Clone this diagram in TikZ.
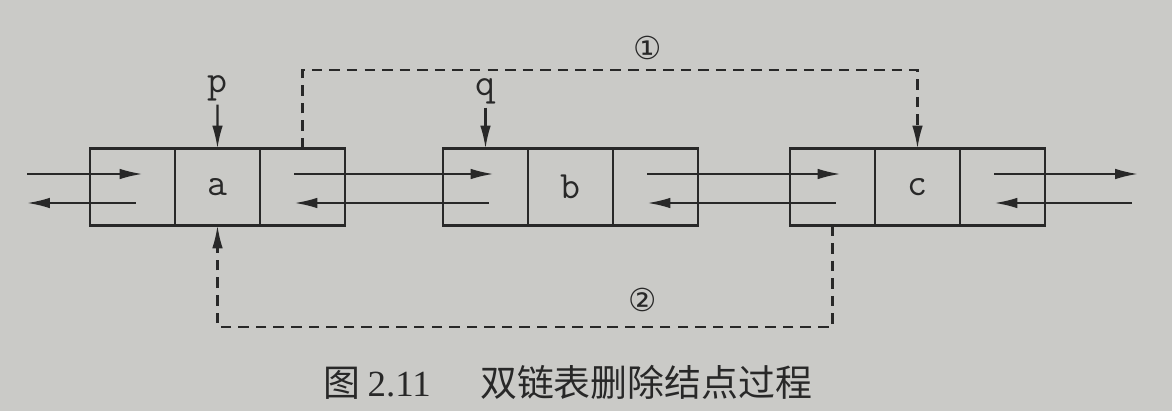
\documentclass[tikz,border=0pt]{standalone}
\usepackage{fontspec}
\setmainfont{Liberation Serif}
\newfontfamily\cjkfont{Noto Sans CJK SC}
\newfontfamily\symfont{DejaVu Sans}
\usetikzlibrary{arrows.meta,calc,positioning}

\definecolor{paper}{RGB}{202,202,199}
\definecolor{ink}{RGB}{40,40,40}

\tikzset{
  cell/.style={draw=ink, line width=1.3pt, minimum width=1.7cm, minimum height=1.54cm,
    inner sep=0pt, outer sep=0pt, text=ink, font=\ttfamily\fontsize{22}{22}\selectfont},
  ptr/.style={inner sep=2pt, text=ink, font=\ttfamily\fontsize{22}{22}\selectfont},
  link/.style={draw=ink, line width=1.2pt, -{Latex[length=13pt,width=6pt]}},
  change/.style={link, dash pattern=on 6pt off 4pt},
  step label/.style={text=ink, font=\symfont\fontsize{18}{18}\selectfont},
}

\begin{document}
\begin{tikzpicture}[x=0.02cm,y=-0.02cm]
  \fill[paper] (0,0) rectangle (1172,411);
  \useasboundingbox (0,0) rectangle (1172,411);

  % node a
  \node[cell] (aL) at (132.5,187) {};
  \node[cell,right=0pt of aL] (aD) {a};
  \node[cell,right=0pt of aD] (aR) {};

  % node b
  \node[cell] (bL) at (485.5,187) {};
  \node[cell,right=0pt of bL] (bD) {b};
  \node[cell,right=0pt of bD] (bR) {};

  % node c
  \node[cell] (cL) at (832.5,187) {};
  \node[cell,right=0pt of cL] (cD) {c};
  \node[cell,right=0pt of cD] (cR) {};

  % pointers p and q
  \node[ptr] (p) at (217.5,88) {p};
  \draw[link] (p.south) -- (aD.north);
  \node[ptr] (q) at (485.5,91) {q};
  \draw[link] (q.south) -- (bL.north);

  % free ends on both sides
  \coordinate (leftIn) at (27,174);
  \coordinate (leftOut) at (27,203);
  \coordinate (rightOut) at (1138,174);
  \coordinate (rightIn) at (1132,203);

  % links to the left of a
  \draw[link] (leftIn) -- ($(aL.center)+(10,-13)$);
  \draw[link] ($(aL.center)+(3,16)$) -- (leftOut);

  % links between a and b
  \draw[link] ($(aR.center)+(-8,-13)$) -- ($(bL.center)+(8,-13)$);
  \draw[link] ($(bL.center)+(3,16)$) -- ($(aR.center)+(-8,16)$);

  % links between b and c
  \draw[link] ($(bR.center)+(-8,-13)$) -- ($(cL.center)+(8,-13)$);
  \draw[link] ($(cL.center)+(3,16)$) -- ($(bR.center)+(-8,16)$);

  % links to the right of c
  \draw[link] ($(cR.center)+(-8,-13)$) -- (rightOut);
  \draw[link] (rightIn) -- ($(cR.center)+(-8,16)$);

  % step 1: a.next = c
  \coordinate (upper) at (600,70);
  \draw[change] (aR.north) |- (upper) -| (cD.north);
  \node[step label] (s1) at (648,48) {①};

  % step 2: c.prior = a
  \coordinate (lower) at (600,327);
  \draw[change] (cL.south) |- (lower) -| (aD.south);
  \node[step label] (s2) at (643,300) {②};

  % caption
  \node[text=ink, font=\fontsize{21}{21}\selectfont] (caption) at (568,382)
    {{\cjkfont 图}\hspace{4pt}2.11\hspace{28pt}{\cjkfont 双链表删除结点过程}};
\end{tikzpicture}
\end{document}
